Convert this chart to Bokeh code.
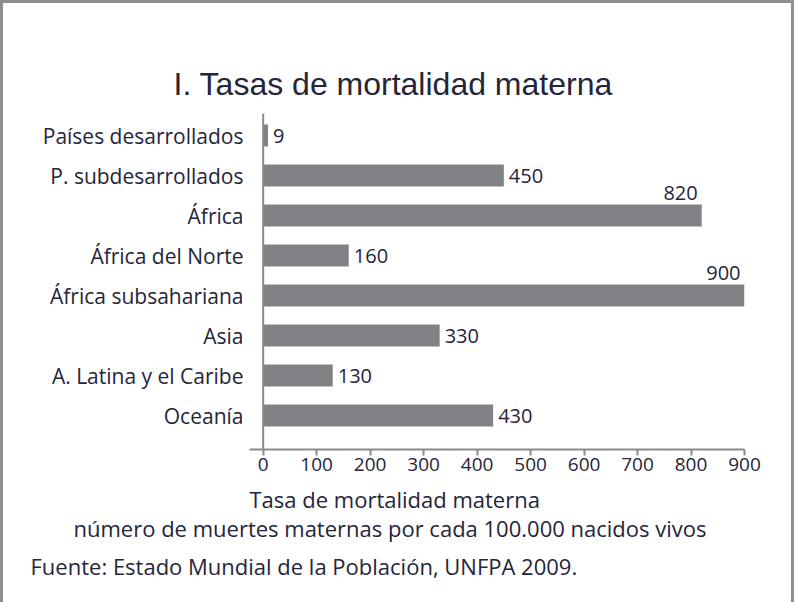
from bokeh.plotting import figure
from bokeh.models import ColumnDataSource, Range1d, FixedTicker, Span, Title, LinearAxis
from bokeh.core.properties import value
from bokeh.embed import file_html
from bokeh.resources import INLINE

# ---------------- data ----------------
categories = ["Países desarrollados", "P. subdesarrollados", "África", "África del Norte",
              "África subsahariana", "Asia", "A. Latina y el Caribe", "Oceanía"]
values = [9, 450, 820, 160, 900, 330, 130, 430]
x_ticks = [0, 100, 200, 300, 400, 500, 600, 700, 800, 900]

title_text = "I. Tasas de mortalidad materna"
axis_title_1 = "Tasa de mortalidad materna"
axis_title_2 = "número de muertes maternas por cada 100.000 nacidos vivos"
source_text = "Fuente: Estado Mundial de la Población, UNFPA 2009."

# ---------------- geometry / style ----------------
W, H = 794, 602
FRAME_L, FRAME_R, FRAME_T, FRAME_B = 249, 744, 113, 449   # page pixels
X0, X1 = -25.6, 900
Y0, Y1 = -7.85, 0.55
TXT = "#25253a"
GRAY = "#8a8a8a"
BAR = "#808285"
FONT = "Open Sans"

ys = [-i for i in range(len(categories))]
above = [v > 800 for v in values]
src = ColumnDataSource(dict(
    y=ys, value=values, label=[str(v) for v in values],
    align=["right" if a else "left" for a in above],
    xoff=[-4 if a else 5 for a in above],
    yoff=[-23 if a else 0 for a in above],
))

p = figure(width=W, height=H, output_backend="svg", toolbar_location=None,
           x_range=Range1d(X0, X1), y_range=Range1d(Y0, Y1),
           min_border_left=FRAME_L, min_border_right=W - FRAME_R,
           min_border_top=FRAME_T, min_border_bottom=H - FRAME_B,
           styles={"box-shadow": "inset 3px 3px 0 0 #8e8e8e, inset -3px 0 0 0 #8e8e8e"})
p.border_fill_color = None
p.background_fill_color = None
p.outline_line_color = None
p.grid.visible = False

p.hbar(y="y", left=0, right="value", height=0.55, source=src,
       fill_color=BAR, line_color=None)

p.text(x="value", y="y", text="label", source=src,
       text_align="align", x_offset="xoff", y_offset="yoff",
       text_baseline="middle", text_font=value(FONT), text_font_size="20px",
       text_color=TXT)

p.add_layout(Span(location=0, dimension="height", line_color=GRAY, line_width=2))

xa = p.xaxis[0]
xa.ticker = FixedTicker(ticks=x_ticks)
xa.axis_line_color = GRAY
xa.axis_line_width = 2
xa.major_tick_line_color = GRAY
xa.major_tick_line_width = 2
xa.major_tick_out = 6
xa.major_tick_in = 0
xa.minor_tick_line_color = None
xa.major_label_standoff = 2
xa.major_label_text_font = FONT
xa.major_label_text_font_size = "19px"
xa.major_label_text_color = TXT

ya = p.yaxis[0]
ya.ticker = FixedTicker(ticks=ys)
ya.major_label_overrides = {y: c for y, c in zip(ys, categories)}
ya.axis_line_color = None
ya.major_tick_line_color = None
ya.minor_tick_line_color = None
ya.major_tick_out = 0
ya.major_tick_in = 0
ya.major_label_standoff = 6
ya.major_label_text_font = FONT
ya.major_label_text_font_size = "21px"
ya.major_label_text_color = TXT

# built-in title unused (it would sit next to the frame)
p.title.text = ""
p.title.standoff = 0
p.title.visible = False

# chart title first (outer), then an empty spacer next to the frame
p.add_layout(Title(text=title_text, align="left", offset=173 - FRAME_L, standoff=20,
                   vertical_align="top", text_font="Liberation Sans", text_font_size="32px",
                   text_font_style="normal", text_color=TXT), "above")

spacer = LinearAxis(ticker=FixedTicker(ticks=[], minor_ticks=[]), axis_line_color=None,
                    major_tick_line_color=None, minor_tick_line_color=None,
                    major_tick_out=38, major_tick_in=0, minor_tick_out=0, minor_tick_in=0,
                    major_label_standoff=0)
p.add_layout(spacer, "above")

# notes below the x axis
for txt, left, stand in [(axis_title_1, 249, 20.6), (axis_title_2, 73, -27.4),
                         (source_text, 30, 38.6)]:
    p.add_layout(Title(text=txt, align="left", offset=left - FRAME_L, standoff=stand,
                       vertical_align="top", text_font=FONT, text_font_size="22px",
                       text_font_style="normal", text_color=TXT), "below")

open("out.html", "w").write(file_html(p, INLINE))
